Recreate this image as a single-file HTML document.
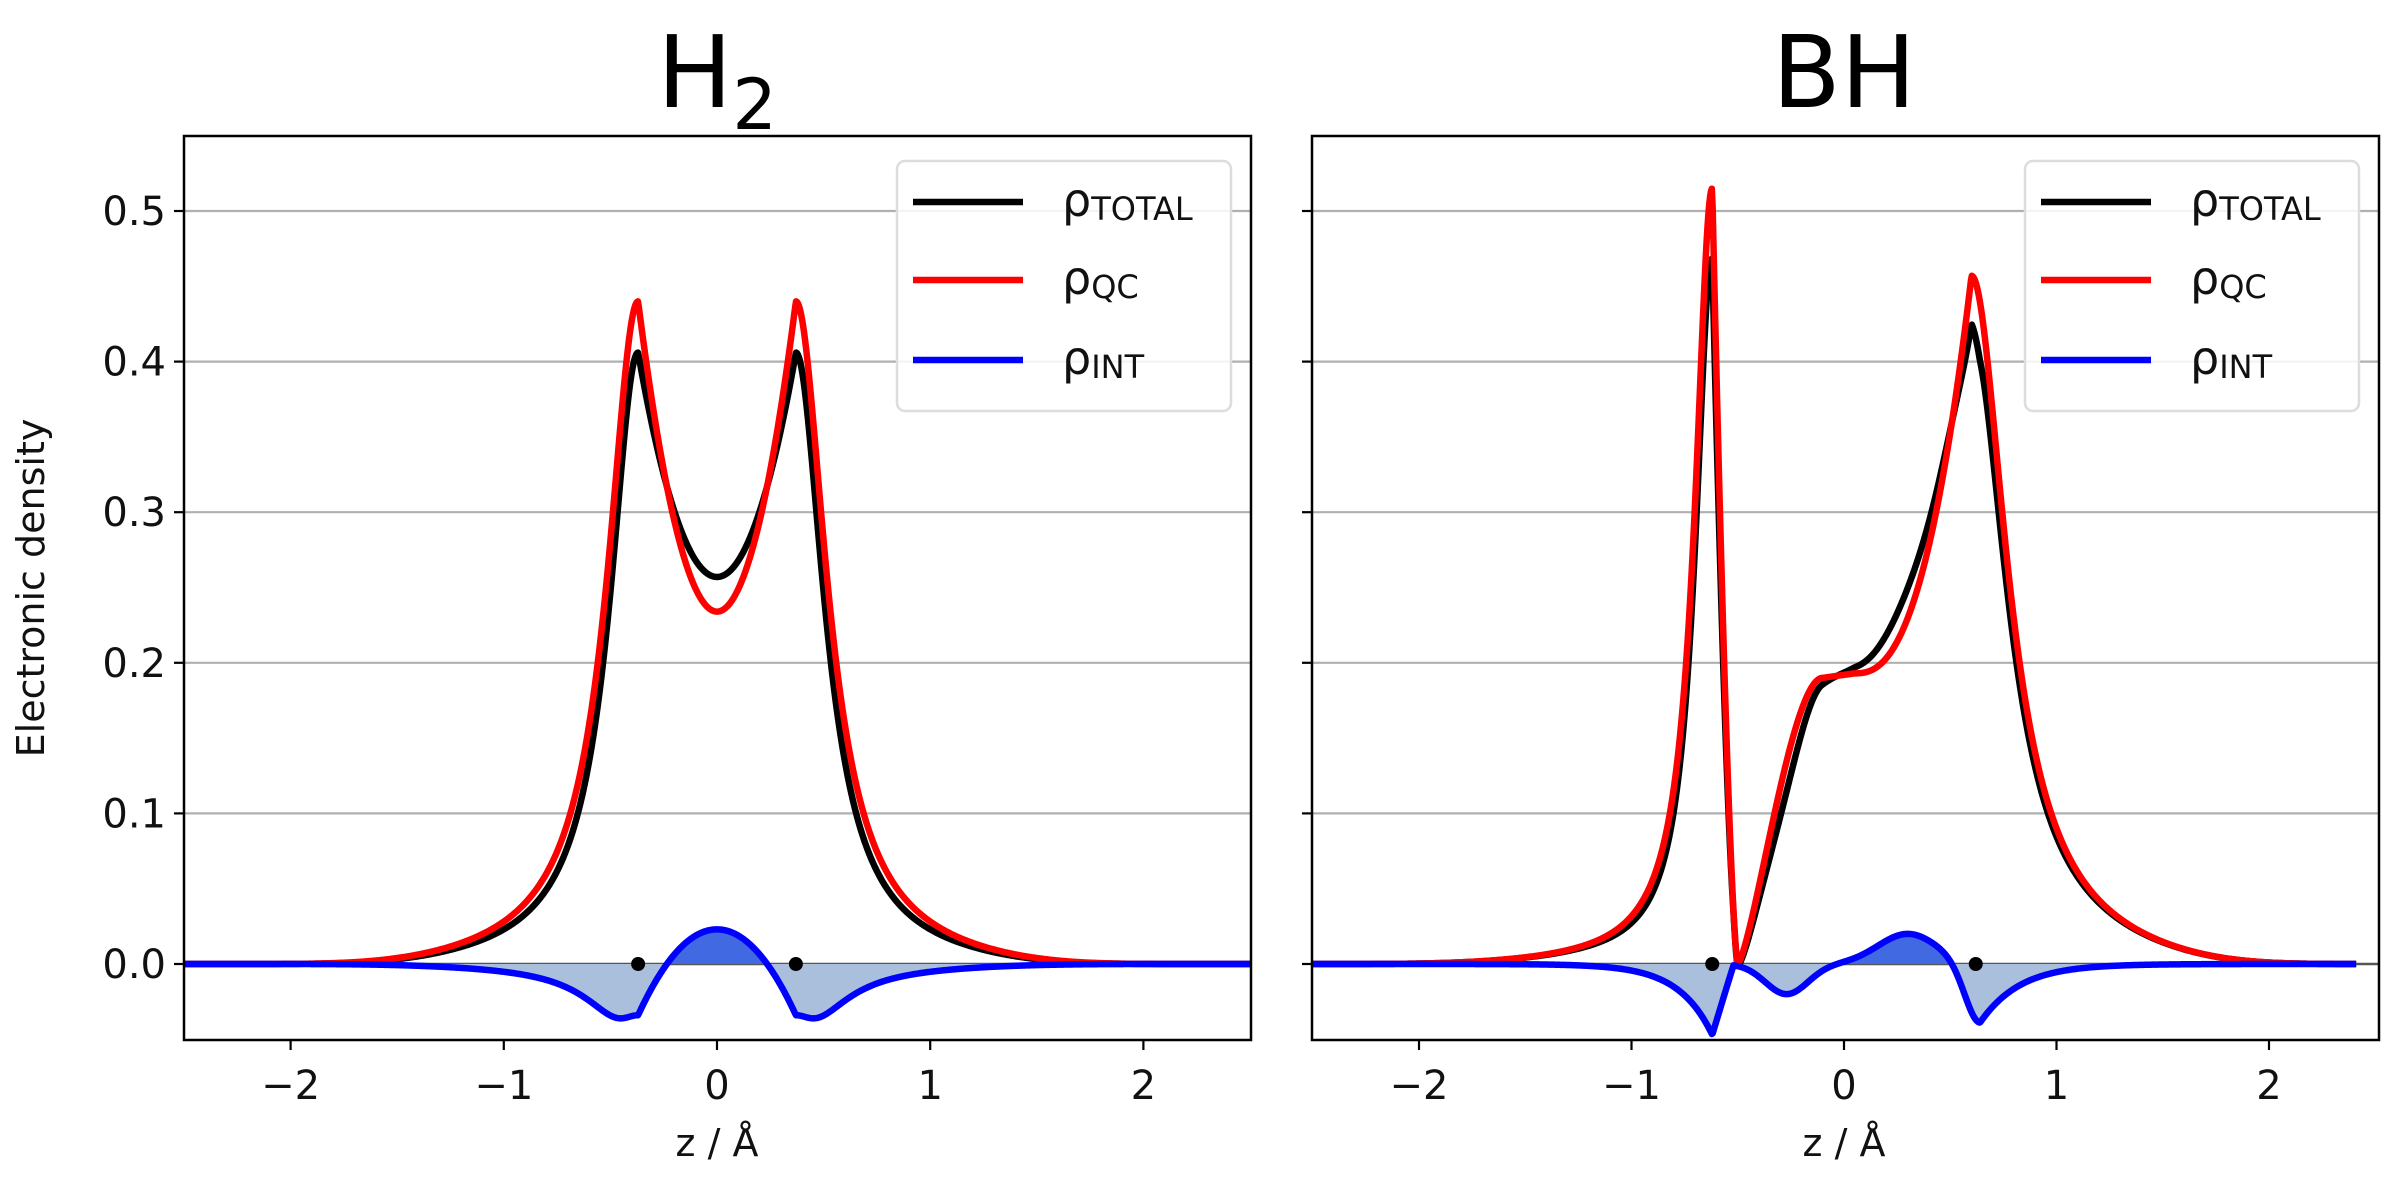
<!DOCTYPE html>
<html><head><meta charset="utf-8">
<style>
html,body{margin:0;padding:0;background:#fff;}
svg{display:block;font-family:"DejaVu Sans","Liberation Sans",sans-serif;}
</style></head>
<body>
<svg id="s" width="2404" height="1181" viewBox="0 0 2404 1181" xmlns="http://www.w3.org/2000/svg">
<rect width="2404" height="1181" fill="#fff"/>
<g id="g"></g>
</svg>
<script>
(function(){
var NS="http://www.w3.org/2000/svg";
var G=document.getElementById('g');
function el(t,a,txt){var e=document.createElementNS(NS,t);for(var k in a)e.setAttribute(k,a[k]);if(txt!==undefined)e.textContent=txt;G.appendChild(e);return e;}
var Y0=964, YS=1506;
var TOPY=136,BOTY=1040;
function yv(v){return Y0-v*YS;}
function lor(d,h,w){var q=d/1.15;return h/(1+(d/w)*(d/w))*Math.exp(-q*q*q*q);}
function ss(t){t=Math.max(0,Math.min(1,t));return t*t*(3-2*t);}
function gs(z,c,s){return Math.exp(-((z-c)*(z-c))/(2*s*s));}
function h2qc(z){var a=Math.abs(z);if(a>=0.37)return lor(a-0.37,0.44,0.173);var u=a/0.37;return 0.234+0.206*u*u;}
function h2tot(z){var a=Math.abs(z);if(a>=0.37)return lor(a-0.37,0.406,0.162);var u=a/0.37;return 0.257+0.149*u*u;}
function bhqc(z){
 if(z<-0.62)return lor(z+0.62,0.515,0.098);
 if(z<-0.5){var t=(z+0.62)/0.12;return 0.515*Math.pow(1-t,1.5);}
 if(z<-0.1){var u=(-0.1-z)/0.4;return 0.19*Math.pow(ss(1-u),0.7);}
 if(z<0.05)return 0.19+0.003*(z+0.1)/0.15;
 if(z<0.6){var v=(z-0.05)/0.55;return 0.193+0.264*Math.pow(v,2.5);}
 return lor(z-0.6,0.457,0.2);
}
function bhint(z){
 var r=0;
 if(z<-0.62)r+=-0.047*Math.exp((z+0.62)/0.16);
 else if(z<-0.52)r+=-0.047*(1-(z+0.62)/0.1);
 r+=-0.02*gs(z,-0.27,0.1);
 r+=0.02*gs(z,0.3,0.14);
 if(z<0.64)r+=-0.04*gs(z,0.64,0.07);else r+=-0.04*Math.exp(-(z-0.64)/0.18);
 return r;
}
function bhtot(z){return bhqc(z)+bhint(z);}

function panel(L,R,x0,xs,z1,z2,qc,tot,nuc,title,showY){
 function X(z){return x0+z*xs;}
 for(var i=1;i<=5;i++){el('line',{x1:L,x2:R,y1:yv(i/10),y2:yv(i/10),stroke:'#b0b0b0','stroke-width':2.2});}
 el('line',{x1:L,x2:R,y1:Y0,y2:Y0,stroke:'#555','stroke-width':2.6});
 var N=1200,pts=[];
 for(var j=0;j<=N;j++){var z=z1+(z2-z1)*j/N;pts.push([z,qc(z),tot(z)]);}
 var pos='M'+X(z1)+' '+Y0,neg='M'+X(z1)+' '+Y0;
 pts.forEach(function(p){var d=p[2]-p[1];pos+=' L'+X(p[0]).toFixed(2)+' '+yv(Math.max(d,0)).toFixed(2);neg+=' L'+X(p[0]).toFixed(2)+' '+yv(Math.min(d,0)).toFixed(2);});
 pos+=' L'+X(z2)+' '+Y0+' Z';neg+=' L'+X(z2)+' '+Y0+' Z';
 el('path',{d:neg,fill:'#a9bfdc'});
 el('path',{d:pos,fill:'#4169e1'});
 function line(f,c){var d='';pts.forEach(function(p,i){d+=(i?' L':'M')+X(p[0]).toFixed(2)+' '+yv(f(p)).toFixed(2);});el('path',{d:d,fill:'none',stroke:c,'stroke-width':6.5,'stroke-linejoin':'round'});}
 line(function(p){return p[2];},'#000');
 line(function(p){return p[1];},'#f00');
 line(function(p){return p[2]-p[1];},'#00f');
 nuc.forEach(function(z){el('circle',{cx:X(z),cy:Y0,r:7,fill:'#000'});});
 el('rect',{x:L,y:TOPY,width:R-L,height:BOTY-TOPY,fill:'none',stroke:'#000','stroke-width':2.5});
 for(var i2=0;i2<=5;i2++){var y=yv(i2/10);el('line',{x1:L-10,x2:L,y1:y,y2:y,stroke:'#000','stroke-width':2.2});
  if(showY)el('text',{x:L-18,y:y+14,'font-size':40,'text-anchor':'end',fill:'#111'},(i2/10).toFixed(1));}
 for(var k=-2;k<=2;k++){var x=X(k);el('line',{x1:x,x2:x,y1:BOTY,y2:BOTY+10,stroke:'#000','stroke-width':2.2});
  el('text',{x:x,y:BOTY+59,'font-size':40,'text-anchor':'middle',fill:'#111'},k<0?'\u2212'+(-k):''+k);}
 el('text',{x:x0,y:1156,'font-size':38,'text-anchor':'middle',fill:'#111'},'z / \u00C5');
 var t=el('text',{x:x0,y:107,'font-size':100,'text-anchor':'middle',fill:'#000'});
 if(title==='H2'){t.appendChild(document.createTextNode('H'));var ts=document.createElementNS(NS,'tspan');ts.setAttribute('font-size','70');ts.setAttribute('dy','22');ts.textContent='2';t.appendChild(ts);}else t.textContent=title;
 var lx=R-360+6, lw=334;
 el('rect',{x:lx,y:161,width:lw,height:250,rx:8,fill:'#fff','fill-opacity':0.85,stroke:'#ddd','stroke-width':2.5});
 var items=[['#000','TOTAL',202],['#f00','QC',280],['#00f','INT',360]];
 items.forEach(function(it){el('line',{x1:lx+16,x2:lx+126,y1:it[2],y2:it[2],stroke:it[0],'stroke-width':6.5});
  var tt=el('text',{x:lx+165,y:it[2]+14,'font-size':46,fill:'#111'});
  tt.appendChild(document.createTextNode('\u03C1'));
  var sp=document.createElementNS(NS,'tspan');sp.setAttribute('font-size','32');sp.setAttribute('dy','4');sp.textContent=it[1];tt.appendChild(sp);});
}
panel(184,1251,717,213.2,-2.5,2.5,h2qc,h2tot,[-0.37,0.37],'H2',true);
panel(1312,2379,1844,212.5,-2.5,2.41,bhqc,bhtot,[-0.62,0.62],'BH',false);
el('text',{x:0,y:0,'font-size':38,'text-anchor':'middle',fill:'#111',transform:'translate(44,588) rotate(-90)'},'Electronic density');
})();
</script>
</body></html>
